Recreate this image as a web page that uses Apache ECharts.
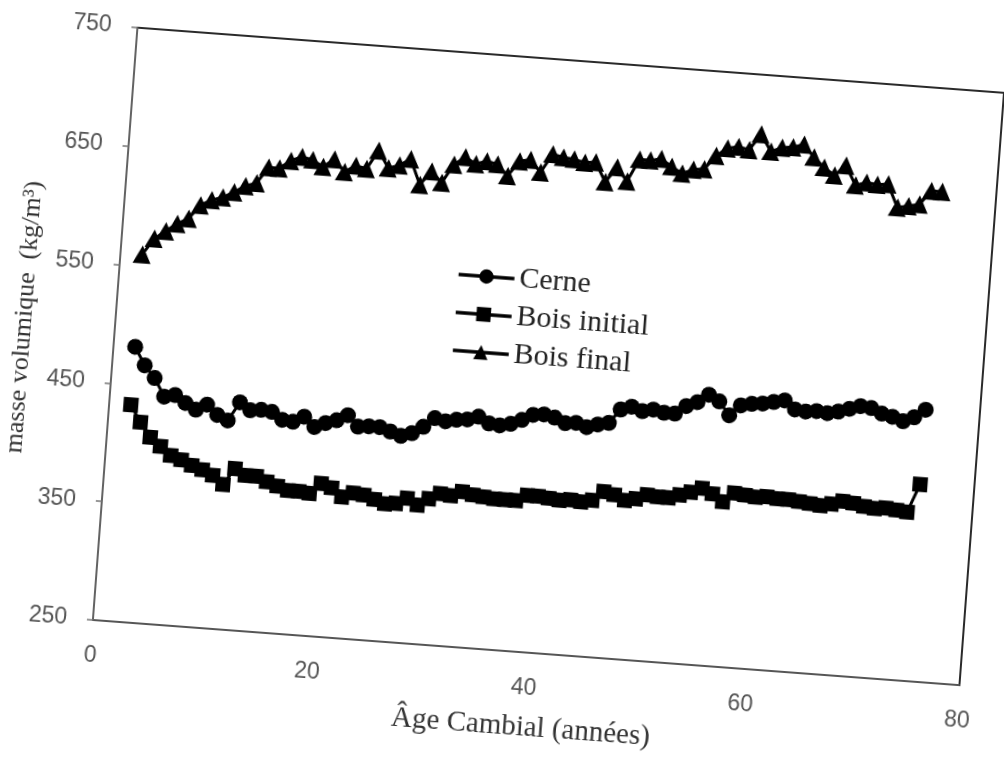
<!DOCTYPE html>
<html>
<head>
<meta charset="utf-8">
<title>Masse volumique selon l'âge cambial</title>
<script src="https://cdn.jsdelivr.net/npm/echarts@6/dist/echarts.min.js"></script>
<style>
  html, body { margin: 0; padding: 0; background: #fff; overflow: hidden; width: 1004px; height: 761px; }
  /* the printed figure sits slightly tilted on the page */
  #chart { width: 1004px; height: 761px; transform: rotate(4.3deg); transform-origin: 50% 50%; }
</style>
</head>
<body>
<div id="chart"></div>
<script>
// Âge cambial (années)
const ages = [
  2, 3, 4, 5, 6, 7, 8, 9, 10, 11, 12, 13, 14, 15, 16, 17, 18, 19, 20, 21,
  22, 23, 24, 25, 26, 27, 28, 29, 30, 31, 32, 33, 34, 35, 36, 37, 38, 39, 40, 41,
  42, 43, 44, 45, 46, 47, 48, 49, 50, 51, 52, 53, 54, 55, 56, 57, 58, 59, 60, 61,
  62, 63, 64, 65, 66, 67, 68, 69, 70, 71, 72, 73, 74, 75
];

// masse volumique du cerne (kg/m³)
const cerne = [
  482, 467, 457, 442, 444, 438, 433, 438, 430, 426, 442, 436, 437, 436, 430, 429, 434, 426, 430, 433,
  438, 429, 430, 430, 427, 424, 427, 433, 441, 439, 441, 442, 445, 440, 439, 441, 445, 450, 451, 449,
  445, 446, 443, 446, 448, 460, 463, 460, 462, 460, 460, 467, 471, 478, 473, 462, 471, 473, 474, 476,
  478, 471, 470, 471, 470, 472, 475, 478, 477, 473, 471, 468, 472, 479
];

// masse volumique du bois initial (kg/m³)
const boisInitial = [
  433, 419, 407, 400, 393, 390, 386, 383, 379, 372, 386, 381, 381, 377, 374, 371, 371, 370, 379, 376,
  369, 373, 372, 369, 366, 367, 372, 367, 373, 378, 377, 381, 379, 378, 377, 377, 377, 382, 382, 381,
  380, 381, 380, 382, 390, 388, 384, 386, 390, 389, 389, 392, 395, 399, 395, 389, 397, 396, 395, 396,
  395, 395, 394, 393, 392, 394, 397, 396, 394, 393, 394, 393, 392, 416
];

// masse volumique du bois final (kg/m³)
const boisFinal = [
  560, 574, 581, 588, 593, 605, 610, 613, 618, 624, 627, 641, 641, 648, 652, 650, 645, 652, 642, 648,
  646, 662, 648, 651, 657, 636, 648, 639, 655, 662, 657, 660, 658, 649, 662, 664, 654, 670, 668, 667,
  665, 666, 650, 663, 652, 671, 671, 673, 667, 662, 666, 667, 679, 686, 688, 686, 700, 686, 690, 691,
  694, 684, 676, 670, 679, 663, 666, 665, 666, 647, 649, 651, 663, 663
];

// axis ticks
const xTicks = [0, 20, 40, 60, 80];
const yTicks = [250, 350, 450, 550, 650, 750];

const serif = 'Liberation Serif';
const sans = 'Liberation Sans';

function lineSeries(name, values, symbol, size) {
  return {
    name: name,
    type: 'line',
    data: ages.map((a, i) => [a, values[i]]),
    symbol: symbol,
    symbolSize: size,
    showSymbol: true,
    showAllSymbol: true,
    lineStyle: { color: '#000', width: 3 },
    itemStyle: { color: '#000' },
    emphasis: { disabled: true }
  };
}

const chart = echarts.init(document.getElementById('chart'), null, { renderer: 'canvas' });

chart.setOption({
  animation: false,
  backgroundColor: '#fff',
  grid: {
    left: 112, right: 23, top: 56, bottom: 111,
    show: true, borderColor: '#2a2a2a', borderWidth: 2, backgroundColor: 'transparent'
  },
  legend: {
    orient: 'vertical',
    left: 444,
    top: 258,
    itemWidth: 56,
    itemHeight: 18,
    itemGap: 8,
    lineStyle: { color: '#000', width: 3.5 },
    itemStyle: { color: '#000' },
    textStyle: { fontFamily: serif, fontSize: 30, color: '#222' },
    data: ['Cerne', 'Bois initial', 'Bois final']
  },
  xAxis: {
    type: 'value',
    min: xTicks[0],
    max: xTicks[xTicks.length - 1],
    interval: xTicks[1] - xTicks[0],
    name: 'Âge Cambial (années)',
    nameLocation: 'middle',
    nameGap: 61,
    nameTextStyle: { fontFamily: serif, fontSize: 29, color: '#333' },
    axisLine: { show: true, lineStyle: { color: '#666', width: 1.5 } },
    axisTick: { show: false },
    splitLine: { show: false },
    axisLabel: { fontFamily: sans, fontSize: 23, color: '#555', margin: 24 }
  },
  yAxis: {
    type: 'value',
    min: yTicks[0],
    max: yTicks[yTicks.length - 1],
    interval: yTicks[1] - yTicks[0],
    name: 'masse volumique  (kg/m³)',
    nameLocation: 'middle',
    nameRotate: 90,
    nameGap: 78,
    nameTextStyle: { fontFamily: serif, fontSize: 26, color: '#333' },
    axisLine: { show: true, lineStyle: { color: '#777', width: 1.5 } },
    axisTick: { show: true, inside: false, length: 6, lineStyle: { color: '#777', width: 1.5 } },
    splitLine: { show: false },
    axisLabel: { fontFamily: sans, fontSize: 23, color: '#555', margin: 26 }
  },
  series: [
    lineSeries('Cerne', cerne, 'circle', 16),
    lineSeries('Bois initial', boisInitial, 'rect', 15),
    lineSeries('Bois final', boisFinal, 'triangle', 18)
  ]
});
</script>
</body>
</html>
